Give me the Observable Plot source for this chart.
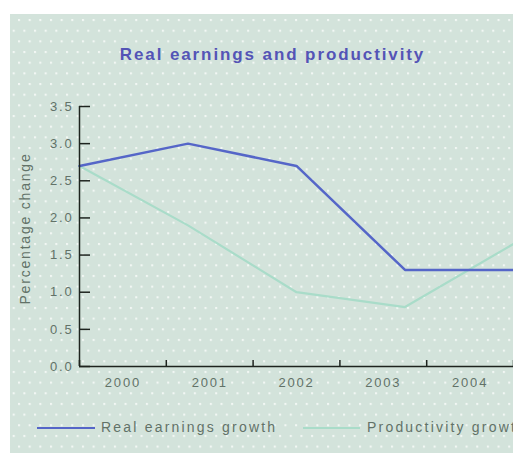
<!DOCTYPE html>
<html>
<head>
<meta charset="utf-8">
<script src="https://cdn.jsdelivr.net/npm/d3@7"></script>
<script src="https://cdn.jsdelivr.net/npm/@observablehq/plot@0.6"></script>
<style>
  html, body { margin: 0; padding: 0; background: #ffffff; width: 513px; height: 453px; overflow: hidden; }
  #bg {
    position: absolute; left: 10px; top: 14px; width: 503px; height: 439px;
    background-color: #d3e3db;
    background-image:
      radial-gradient(circle at 1px 1px, #f2f7f4 0.9px, rgba(0,0,0,0) 1.6px),
      radial-gradient(circle at 1px 1px, #f2f7f4 0.9px, rgba(0,0,0,0) 1.6px);
    background-size: 10.67px 21.33px, 10.67px 21.33px;
    background-position: 8px 5px, 2.7px 15.7px;
  }
  #title {
    position: absolute; left: 0; width: 545px; top: 45px; text-align: center;
    font-family: "Liberation Sans", Arial, sans-serif; font-weight: bold; font-size: 17px;
    letter-spacing: 1.9px; color: #5454b6;
  }
  #chart { position: absolute; left: 0; top: 0; }
  .leg { position: absolute; top: 419px; font-family: "Liberation Sans", Arial, sans-serif;
    font-size: 14px; letter-spacing: 2.2px; color: #627268; white-space: nowrap; }
  .legline { position: absolute; height: 2px; top: 427px; }
</style>
</head>
<body>
<div id="bg"></div>
<div id="title"></div>
<div id="chart"></div>
<div id="legend"></div>
<script>
const title = "Real earnings and productivity";
const yLabel = "Percentage change";
const years = ["2000", "2001", "2002", "2003", "2004"];
const seriesNames = ["Real earnings growth", "Productivity growth"];
const earnings = [2.7, 3.0, 2.7, 1.3, 1.3];
const productivity = [2.7, 1.9, 1.0, 0.8, 1.65];
const yTicks = [0, 0.5, 1.0, 1.5, 2.0, 2.5, 3.0, 3.5];
const colors = ["#5566c8", "#a9dcc9"];

document.getElementById("title").textContent = title;

const n = years.length;
const rows = [];
years.forEach((y, i) => {
  rows.push({i, value: earnings[i], series: seriesNames[0]});
  rows.push({i, value: productivity[i], series: seriesNames[1]});
});
const boundaries = d3.range(n + 1).map(k => k * (n - 1) / n);
const centers = d3.range(n).map(k => (k + 0.5) * (n - 1) / n);
const axisColor = "#1e241f";
const textColor = "#627268";
const font = "Liberation Sans, Arial, sans-serif";

// inward tick lengths expressed through the scales
const width = 513, marginLeft = 79, marginRight = 0, marginTop = 106, marginBottom = 87, height = 453;
const xPerPx = (n - 1) / (width - marginLeft - marginRight);
const yPerPx = 3.5 / (height - marginTop - marginBottom);

const chart = Plot.plot({
  width, height, marginLeft, marginRight, marginTop, marginBottom,
  style: {background: "transparent", fontFamily: font, fontSize: "13px", color: textColor, letterSpacing: "1.8px"},
  x: {type: "linear", domain: [0, n - 1], axis: null},
  y: {domain: [0, 3.5], axis: null},
  marks: [
    Plot.line(rows.filter(d => d.series === seriesNames[1]), {x: "i", y: "value", stroke: colors[1], strokeWidth: 2.2}),
    Plot.line(rows.filter(d => d.series === seriesNames[0]), {x: "i", y: "value", stroke: colors[0], strokeWidth: 2.5}),
    Plot.ruleX([0], {y1: 0, y2: 3.5, stroke: axisColor, strokeWidth: 1.5}),
    Plot.ruleY([0], {stroke: axisColor, strokeWidth: 1.5}),
    Plot.ruleY(yTicks, {y: d => d, x1: 0, x2: 11 * xPerPx, stroke: axisColor, strokeWidth: 1.5}),
    Plot.ruleX(boundaries, {x: d => d, y1: 0, y2: 6 * yPerPx, stroke: axisColor, strokeWidth: 1.5}),
    Plot.text(yTicks, {x: 0, y: d => d, text: d => d3.format(".1f")(d), textAnchor: "end", dx: -6, fill: textColor}),
    Plot.text(years, {x: (d, i) => centers[i], y: 0, dy: 16, text: d => d, fill: textColor}),
    Plot.text([yLabel], {frameAnchor: "left", textAnchor: "middle", dx: -54, dy: -8, rotate: -90, text: d => d, fill: textColor, fontSize: 14, letterSpacing: "1.6px"})
  ]
});
document.getElementById("chart").appendChild(chart);

const legend = document.getElementById("legend");
const legPos = [{line: 37, w: 58, text: 101}, {line: 303, w: 57, text: 367}];
seriesNames.forEach((s, k) => {
  const l = document.createElement("div");
  l.className = "legline";
  l.style.left = legPos[k].line + "px";
  l.style.width = legPos[k].w + "px";
  l.style.background = colors[k];
  legend.appendChild(l);
  const t = document.createElement("div");
  t.className = "leg";
  t.style.left = legPos[k].text + "px";
  t.textContent = s;
  legend.appendChild(t);
});
</script>
</body>
</html>
